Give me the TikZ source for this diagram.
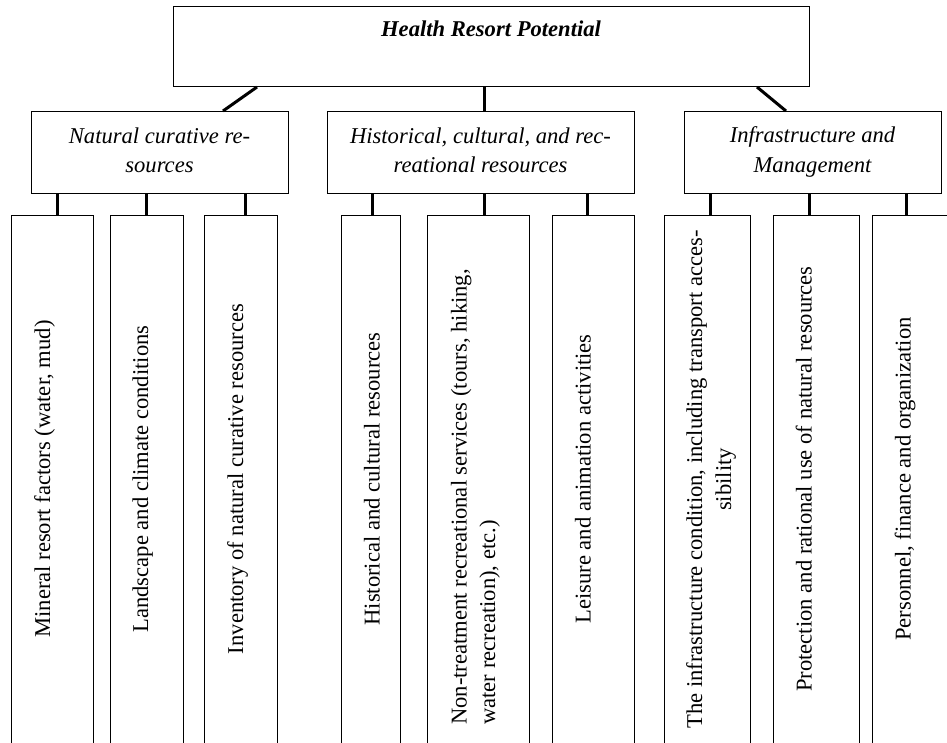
\documentclass[tikz,border=0pt]{standalone}
\usepackage{fontspec}
\setmainfont{Liberation Serif}
\begin{document}
\begin{tikzpicture}[x=1pt,y=-1pt,
  box/.style={draw=black, line width=1pt, inner sep=0pt, anchor=north west},
  conn/.style={line width=3pt, black},
  txt/.style={inner sep=0pt, font=\fontsize{22.6}{29}\selectfont},
  itxt/.style={txt, font=\fontsize{22.6}{29}\selectfont\itshape},
  vtxt/.style={txt, rotate=90}
]
\useasboundingbox (0,0) rectangle (947,742);
\clip (0,0) rectangle (947,742);
% top
\node[box, minimum width=636pt, minimum height=80pt] (top) at (173,6) {};
\node[txt, anchor=base, font=\fontsize{22.6}{29}\selectfont\bfseries\itshape] (title) at (491,36) {Health Resort Potential};
% level 2
\node[box, minimum width=257pt, minimum height=82pt] (nat) at (31,111) {};
\node[box, minimum width=307pt, minimum height=82pt] (his) at (327,111) {};
\node[box, minimum width=257pt, minimum height=82pt] (inf) at (684,111) {};
\node[itxt, anchor=base] (nat1) at (159.5,143) {Natural curative re-};
\node[itxt, anchor=base] (nat2) at (159.5,172) {sources};
\node[itxt, anchor=base] (his1) at (480.5,143) {Historical, cultural, and rec-};
\node[itxt, anchor=base] (his2) at (480.5,172) {reational resources};
\node[itxt, anchor=base] (inf1) at (812.5,142) {Infrastructure and};
\node[itxt, anchor=base] (inf2) at (812.5,172) {Management};
% connectors top -> level 2
\draw[conn] ([xshift=84pt]top.south west) -- ([xshift=192pt]nat.north west);
\draw[conn] ([xshift=311pt]top.south west) -- ([xshift=157pt]his.north west);
\draw[conn] ([xshift=584pt]top.south west) -- ([xshift=102pt]inf.north west);
% leaves
\node[box, minimum width=82pt, minimum height=545pt] (l1) at (11,215) {};
\node[box, minimum width=73pt, minimum height=545pt] (l2) at (110,215) {};
\node[box, minimum width=73pt, minimum height=545pt] (l3) at (204,215) {};
\node[box, minimum width=59pt, minimum height=545pt] (l4) at (341,215) {};
\node[box, minimum width=102pt, minimum height=545pt] (l5) at (427,215) {};
\node[box, minimum width=82pt, minimum height=545pt] (l6) at (552,215) {};
\node[box, minimum width=86pt, minimum height=545pt] (l7) at (664,215) {};
\node[box, minimum width=86pt, minimum height=545pt] (l8) at (773,215) {};
\node[box, minimum width=90pt, minimum height=545pt] (l9) at (872,215) {};
% leaf connectors
\draw[conn] ([xshift=46pt]l1.north west) -- ([xshift=46pt]l1.north west |- nat.south);
\draw[conn] ([xshift=36pt]l2.north west) -- ([xshift=36pt]l2.north west |- nat.south);
\draw[conn] ([xshift=41pt]l3.north west) -- ([xshift=41pt]l3.north west |- nat.south);
\draw[conn] ([xshift=31pt]l4.north west) -- ([xshift=31pt]l4.north west |- his.south);
\draw[conn] ([xshift=57pt]l5.north west) -- ([xshift=57pt]l5.north west |- his.south);
\draw[conn] ([xshift=35pt]l6.north west) -- ([xshift=35pt]l6.north west |- his.south);
\draw[conn] ([xshift=46pt]l7.north west) -- ([xshift=46pt]l7.north west |- inf.south);
\draw[conn] ([xshift=36pt]l8.north west) -- ([xshift=36pt]l8.north west |- inf.south);
\draw[conn] ([xshift=34pt]l9.north west) -- ([xshift=34pt]l9.north west |- inf.south);
% leaf texts
\node[vtxt, anchor=base] (t1) at (50,479) {Mineral resort factors (water, mud)};
\node[vtxt, anchor=base] (t2) at (148,479) {Landscape and climate conditions};
\node[vtxt, anchor=base] (t3) at (243,479) {Inventory of natural curative resources};
\node[vtxt, anchor=base] (t4) at (379.5,479) {Historical and cultural resources};
\node[vtxt, anchor=base west] (t5a) at (466.5,725) {Non-treatment recreational services (tours, hiking,};
\node[vtxt, anchor=base west] (t5b) at (495,725) {water recreation), etc.)};
\node[vtxt, anchor=base] (t6) at (590.5,479) {Leisure and animation activities};
\node[vtxt, anchor=base] (t7a) at (702,479.5) {The infrastructure condition, including transport acces-};
\node[vtxt, anchor=base] (t7b) at (731,479.5) {sibility};
\node[vtxt, anchor=base] (t8) at (811.5,479) {Protection and rational use of natural resources};
\node[vtxt, anchor=base] (t9) at (910.5,479) {Personnel, finance and organization};
\end{tikzpicture}
\end{document}
